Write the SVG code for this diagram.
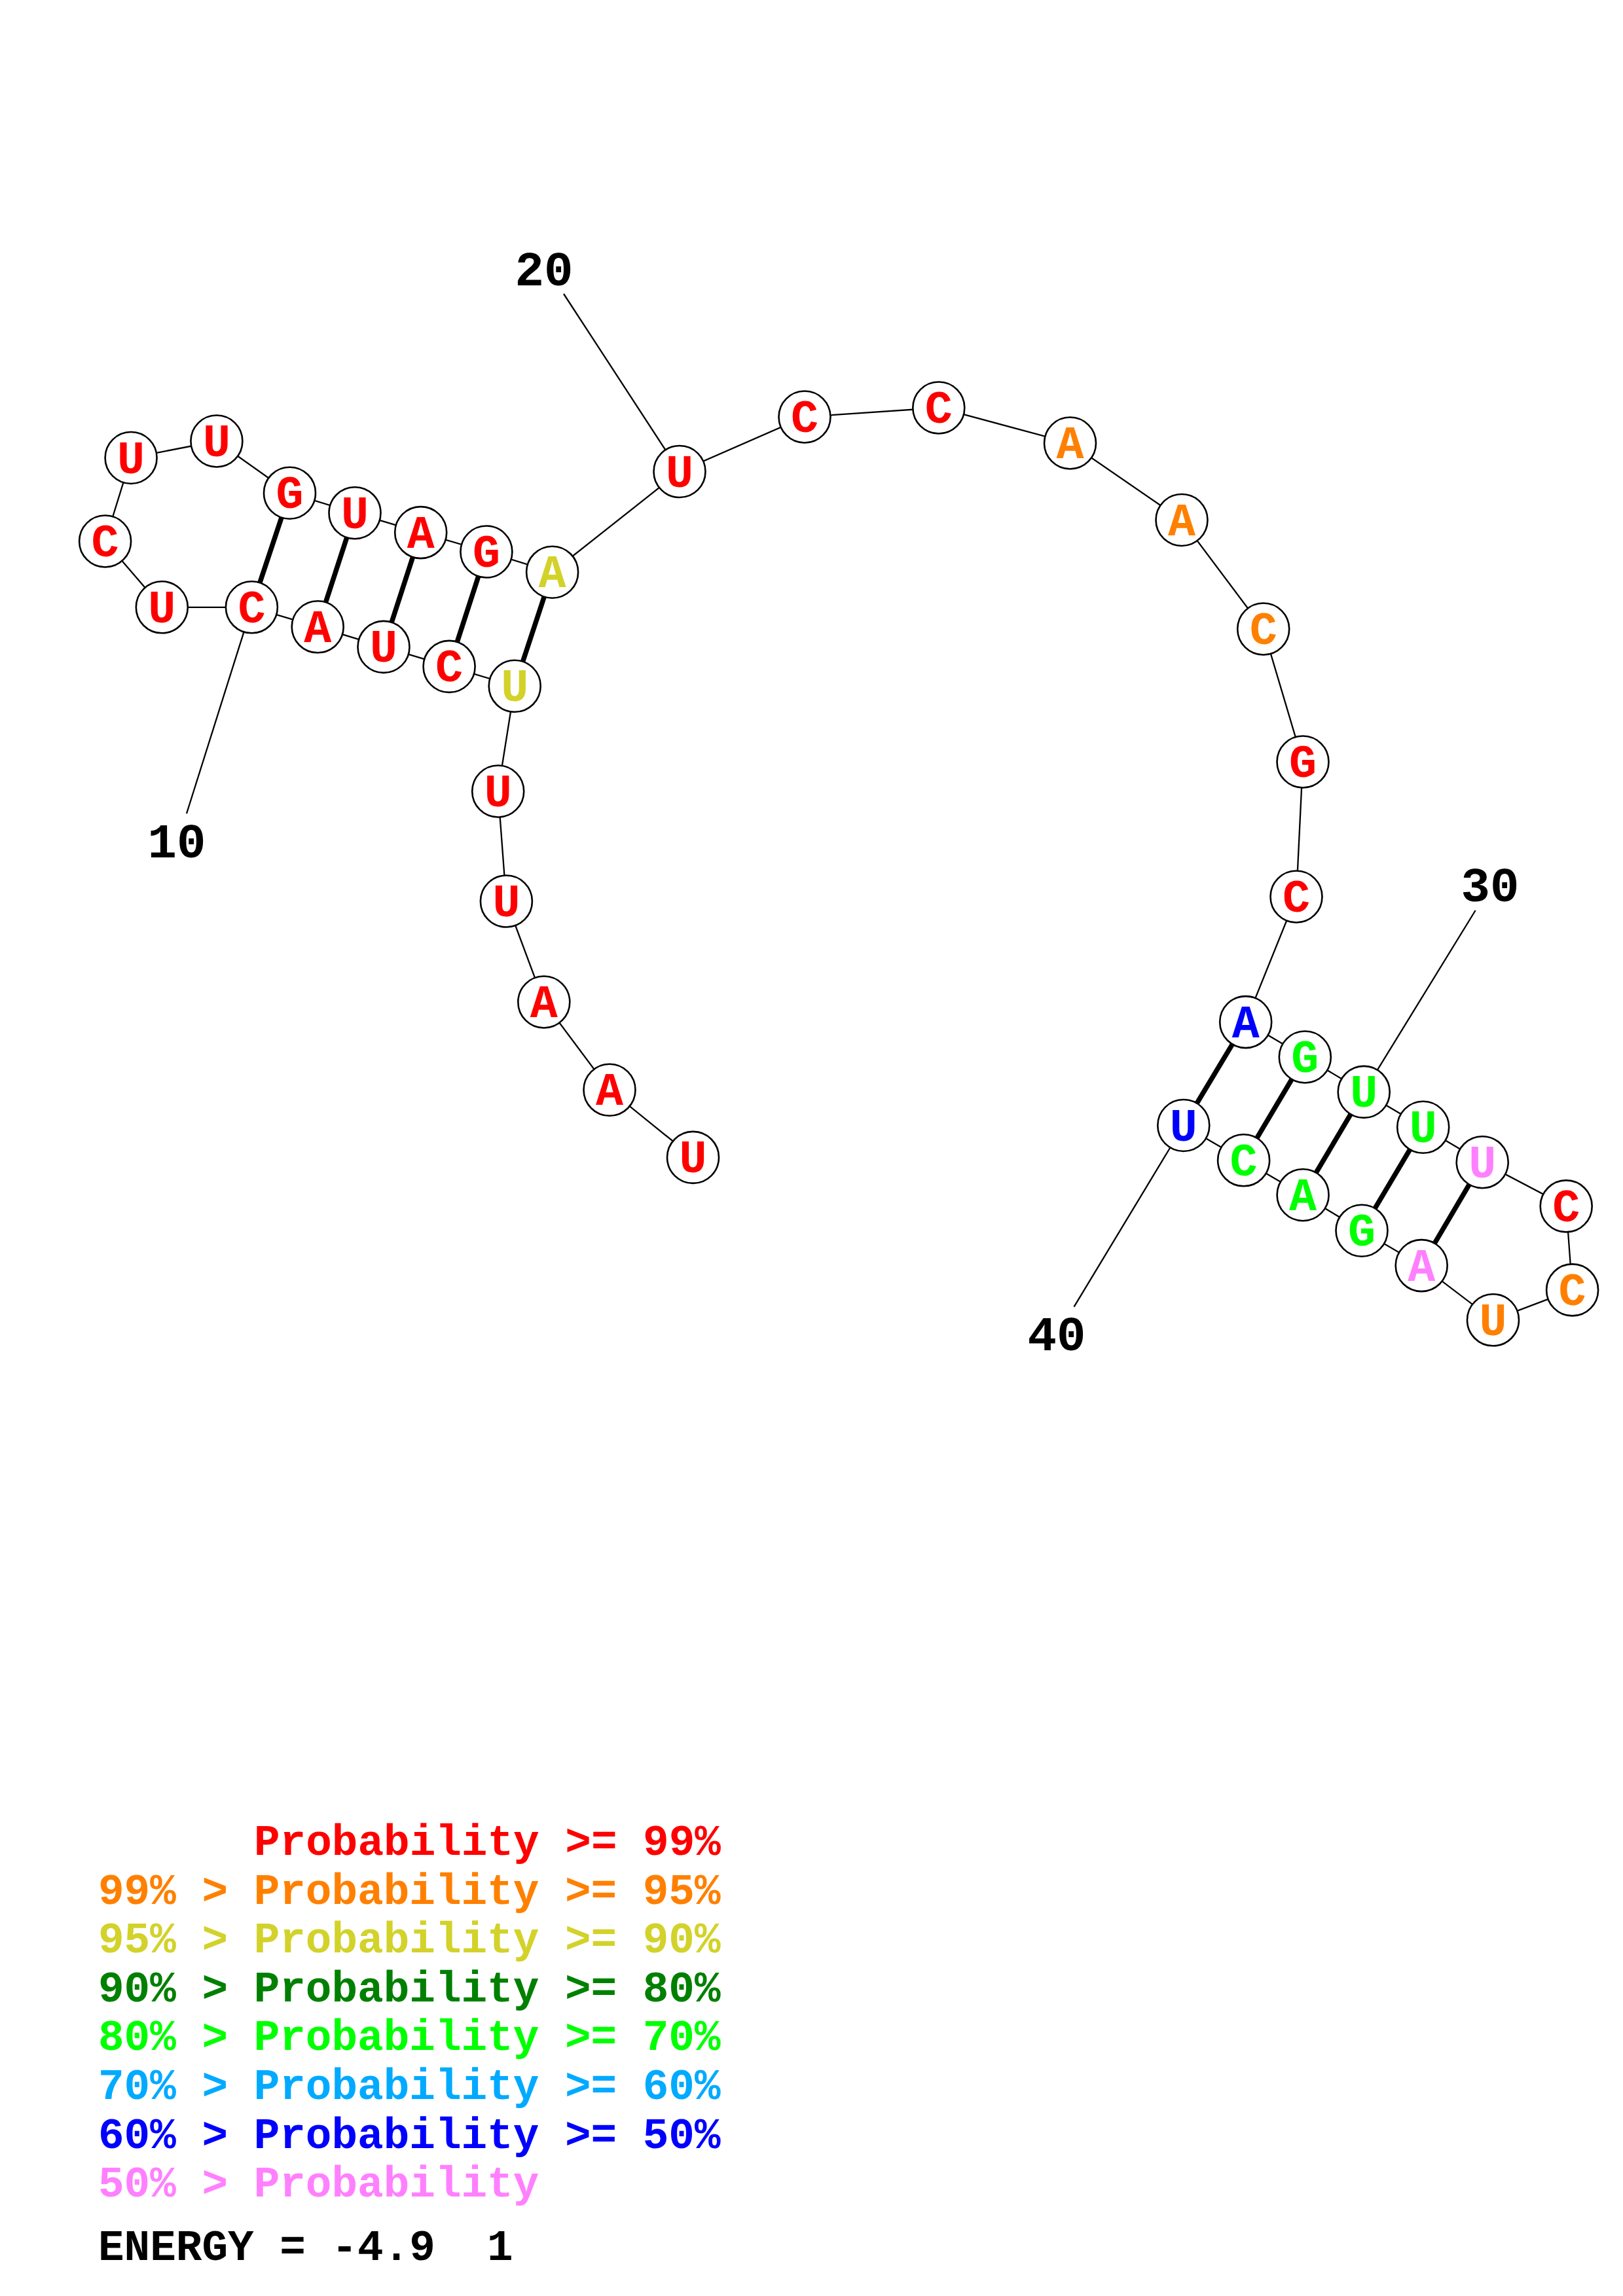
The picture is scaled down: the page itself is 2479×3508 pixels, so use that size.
<svg xmlns="http://www.w3.org/2000/svg" width="2479" height="3508" viewBox="0 0 2479 3508">
<style>
.bb{stroke:#000;stroke-width:2.3;fill:none}
.pr{stroke:#000;stroke-width:7.5;fill:none}
.nc{fill:#fff;stroke:#000;stroke-width:2.6}
.nt{font-family:"Liberation Mono","DejaVu Sans Mono",monospace;font-weight:bold;font-size:70px;text-anchor:middle}
.lb{font-family:"Liberation Mono","DejaVu Sans Mono",monospace;font-weight:bold;font-size:74px;text-anchor:middle;fill:#000}
.lg{font-family:"Liberation Mono","DejaVu Sans Mono",monospace;font-weight:bold;font-size:66px}
.r{fill:#FF0000}.o{fill:#FF8000}.y{fill:#D2D22A}.dg{fill:#008000}.g{fill:#00FF00}.lbl{fill:#00AAFF}.b{fill:#0000FF}.p{fill:#FF80FF}.k{fill:#000}
</style>
<rect width="2479" height="3508" fill="#fff"/>
<g id="connectors">
<polyline class="bb" points="1058.5,1768.4 931,1665.3 830.8,1531 773.4,1377 760.7,1209 786.2,1048.3 686.1,1018.4 586,988.4 485.2,957.8 384.4,927.8 247.3,927.8 160.6,827 200.1,699.5 330.9,674 442.5,753.2 542,783.7 642.7,813.6 742.9,843 843.6,874.2 1038,720.5 1229,637 1433.8,623 1634.5,677 1805,794.5 1929.7,961 1990,1164 1980,1370 1902.7,1561.6 1993.3,1615 2083.2,1668.4 2173.7,1722.3 2264.2,1775.7 2392.2,1842.9 2401.6,1970.9 2280.5,2016.8 2171.2,1933.6 2080,1880.2 1990.1,1825.7 1899.6,1772.8 1807.8,1719.5"/>
<line class="pr" x1="384.4" y1="927.8" x2="442.5" y2="753.2"/>
<line class="pr" x1="485.2" y1="957.8" x2="542" y2="783.7"/>
<line class="pr" x1="586" y1="988.4" x2="642.7" y2="813.6"/>
<line class="pr" x1="686.1" y1="1018.4" x2="742.9" y2="843"/>
<line class="pr" x1="786.2" y1="1048.3" x2="843.6" y2="874.2"/>
<line class="pr" x1="1807.8" y1="1719.5" x2="1902.7" y2="1561.6"/>
<line class="pr" x1="1899.6" y1="1772.8" x2="1993.3" y2="1615"/>
<line class="pr" x1="1990.1" y1="1825.7" x2="2083.2" y2="1668.4"/>
<line class="pr" x1="2080" y1="1880.2" x2="2173.7" y2="1722.3"/>
<line class="pr" x1="2171.2" y1="1933.6" x2="2264.2" y2="1775.7"/>
<line class="bb" x1="285" y1="1243" x2="384.4" y2="927.8"/>
<line class="bb" x1="861" y1="449" x2="1038" y2="720.5"/>
<line class="bb" x1="2253.6" y1="1391" x2="2083.2" y2="1668.4"/>
<line class="bb" x1="1640.5" y1="1996.7" x2="1807.8" y2="1719.5"/>
</g>
<g id="n1"><circle class="nc" cx="1058.5" cy="1768.4" r="39.5"/><text class="nt r" x="1058.5" y="1791.4">U</text></g>
<g id="n2"><circle class="nc" cx="931" cy="1665.3" r="39.5"/><text class="nt r" x="931" y="1688.3">A</text></g>
<g id="n3"><circle class="nc" cx="830.8" cy="1531" r="39.5"/><text class="nt r" x="830.8" y="1554">A</text></g>
<g id="n4"><circle class="nc" cx="773.4" cy="1377" r="39.5"/><text class="nt r" x="773.4" y="1400">U</text></g>
<g id="n5"><circle class="nc" cx="760.7" cy="1209" r="39.5"/><text class="nt r" x="760.7" y="1232">U</text></g>
<g id="n6"><circle class="nc" cx="786.2" cy="1048.3" r="39.5"/><text class="nt y" x="786.2" y="1071.3">U</text></g>
<g id="n7"><circle class="nc" cx="686.1" cy="1018.4" r="39.5"/><text class="nt r" x="686.1" y="1041.4">C</text></g>
<g id="n8"><circle class="nc" cx="586" cy="988.4" r="39.5"/><text class="nt r" x="586" y="1011.4">U</text></g>
<g id="n9"><circle class="nc" cx="485.2" cy="957.8" r="39.5"/><text class="nt r" x="485.2" y="980.8">A</text></g>
<g id="n10"><circle class="nc" cx="384.4" cy="927.8" r="39.5"/><text class="nt r" x="384.4" y="950.8">C</text></g>
<g id="n11"><circle class="nc" cx="247.3" cy="927.8" r="39.5"/><text class="nt r" x="247.3" y="950.8">U</text></g>
<g id="n12"><circle class="nc" cx="160.6" cy="827" r="39.5"/><text class="nt r" x="160.6" y="850">C</text></g>
<g id="n13"><circle class="nc" cx="200.1" cy="699.5" r="39.5"/><text class="nt r" x="200.1" y="722.5">U</text></g>
<g id="n14"><circle class="nc" cx="330.9" cy="674" r="39.5"/><text class="nt r" x="330.9" y="697">U</text></g>
<g id="n15"><circle class="nc" cx="442.5" cy="753.2" r="39.5"/><text class="nt r" x="442.5" y="776.2">G</text></g>
<g id="n16"><circle class="nc" cx="542" cy="783.7" r="39.5"/><text class="nt r" x="542" y="806.7">U</text></g>
<g id="n17"><circle class="nc" cx="642.7" cy="813.6" r="39.5"/><text class="nt r" x="642.7" y="836.6">A</text></g>
<g id="n18"><circle class="nc" cx="742.9" cy="843" r="39.5"/><text class="nt r" x="742.9" y="866">G</text></g>
<g id="n19"><circle class="nc" cx="843.6" cy="874.2" r="39.5"/><text class="nt y" x="843.6" y="897.2">A</text></g>
<g id="n20"><circle class="nc" cx="1038" cy="720.5" r="39.5"/><text class="nt r" x="1038" y="743.5">U</text></g>
<g id="n21"><circle class="nc" cx="1229" cy="637" r="39.5"/><text class="nt r" x="1229" y="660">C</text></g>
<g id="n22"><circle class="nc" cx="1433.8" cy="623" r="39.5"/><text class="nt r" x="1433.8" y="646">C</text></g>
<g id="n23"><circle class="nc" cx="1634.5" cy="677" r="39.5"/><text class="nt o" x="1634.5" y="700">A</text></g>
<g id="n24"><circle class="nc" cx="1805" cy="794.5" r="39.5"/><text class="nt o" x="1805" y="817.5">A</text></g>
<g id="n25"><circle class="nc" cx="1929.7" cy="961" r="39.5"/><text class="nt o" x="1929.7" y="984">C</text></g>
<g id="n26"><circle class="nc" cx="1990" cy="1164" r="39.5"/><text class="nt r" x="1990" y="1187">G</text></g>
<g id="n27"><circle class="nc" cx="1980" cy="1370" r="39.5"/><text class="nt r" x="1980" y="1393">C</text></g>
<g id="n28"><circle class="nc" cx="1902.7" cy="1561.6" r="39.5"/><text class="nt b" x="1902.7" y="1584.6">A</text></g>
<g id="n29"><circle class="nc" cx="1993.3" cy="1615" r="39.5"/><text class="nt g" x="1993.3" y="1638">G</text></g>
<g id="n30"><circle class="nc" cx="2083.2" cy="1668.4" r="39.5"/><text class="nt g" x="2083.2" y="1691.4">U</text></g>
<g id="n31"><circle class="nc" cx="2173.7" cy="1722.3" r="39.5"/><text class="nt g" x="2173.7" y="1745.3">U</text></g>
<g id="n32"><circle class="nc" cx="2264.2" cy="1775.7" r="39.5"/><text class="nt p" x="2264.2" y="1798.7">U</text></g>
<g id="n33"><circle class="nc" cx="2392.2" cy="1842.9" r="39.5"/><text class="nt r" x="2392.2" y="1865.9">C</text></g>
<g id="n34"><circle class="nc" cx="2401.6" cy="1970.9" r="39.5"/><text class="nt o" x="2401.6" y="1993.9">C</text></g>
<g id="n35"><circle class="nc" cx="2280.5" cy="2016.8" r="39.5"/><text class="nt o" x="2280.5" y="2039.8">U</text></g>
<g id="n36"><circle class="nc" cx="2171.2" cy="1933.6" r="39.5"/><text class="nt p" x="2171.2" y="1956.6">A</text></g>
<g id="n37"><circle class="nc" cx="2080" cy="1880.2" r="39.5"/><text class="nt g" x="2080" y="1903.2">G</text></g>
<g id="n38"><circle class="nc" cx="1990.1" cy="1825.7" r="39.5"/><text class="nt g" x="1990.1" y="1848.7">A</text></g>
<g id="n39"><circle class="nc" cx="1899.6" cy="1772.8" r="39.5"/><text class="nt g" x="1899.6" y="1795.8">C</text></g>
<g id="n40"><circle class="nc" cx="1807.8" cy="1719.5" r="39.5"/><text class="nt b" x="1807.8" y="1742.5">U</text></g>
<g id="labels">
<text class="lb" x="831" y="436">20</text>
<text class="lb" x="270" y="1310">10</text>
<text class="lb" x="2276" y="1377">30</text>
<text class="lb" x="1614" y="2063">40</text>
</g>
<g id="legend">
<text class="lg r" x="388" y="2834">Probability &gt;= 99%</text>
<text class="lg o" x="150" y="2908.6">99% &gt; Probability &gt;= 95%</text>
<text class="lg y" x="150" y="2983.2">95% &gt; Probability &gt;= 90%</text>
<text class="lg dg" x="150" y="3057.8">90% &gt; Probability &gt;= 80%</text>
<text class="lg g" x="150" y="3132.4">80% &gt; Probability &gt;= 70%</text>
<text class="lg lbl" x="150" y="3207">70% &gt; Probability &gt;= 60%</text>
<text class="lg b" x="150" y="3281.6">60% &gt; Probability &gt;= 50%</text>
<text class="lg p" x="150" y="3356.2">50% &gt; Probability</text>
<text class="lg k" x="150" y="3453" xml:space="preserve">ENERGY = -4.9  1</text>
</g>
</svg>
